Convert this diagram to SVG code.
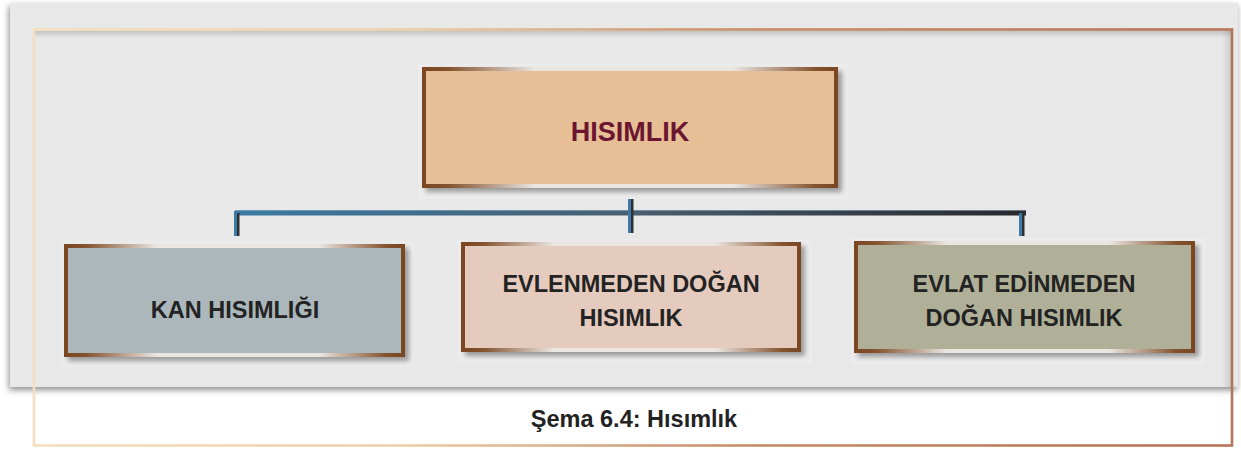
<svg xmlns="http://www.w3.org/2000/svg" width="1241" height="449" viewBox="0 0 1241 449">
<defs>
<style>
.lbl{font-family:"Liberation Sans",Arial,Helvetica,sans-serif;font-weight:bold;text-anchor:middle}
.dark{fill:#232323;font-size:23.5px}
.halo{fill:#ececec}
</style>
<linearGradient id="frameG" x1="0" y1="0" x2="1" y2="0">
<stop offset="0" stop-color="#f4dfbf"/>
<stop offset="0.3" stop-color="#edd0a6"/>
<stop offset="0.6" stop-color="#c68c69"/>
<stop offset="1" stop-color="#b57455"/>
</linearGradient>
<linearGradient id="borderG" x1="0" y1="0" x2="1" y2="0">
<stop offset="0" stop-color="#7a4722"/>
<stop offset="0.06" stop-color="#84532f"/>
<stop offset="0.27" stop-color="#ebe6e2"/>
<stop offset="0.75" stop-color="#ebe6e2"/>
<stop offset="0.95" stop-color="#84532f"/>
<stop offset="1" stop-color="#7a4722"/>
</linearGradient>
<linearGradient id="barG" x1="0" y1="0" x2="1" y2="0">
<stop offset="0" stop-color="#3b7aa3"/>
<stop offset="0.5" stop-color="#4a5f70"/>
<stop offset="1" stop-color="#28282c"/>
</linearGradient>
<linearGradient id="shadeDown" x1="0" y1="0" x2="0" y2="1">
<stop offset="0" stop-color="#000" stop-opacity="0.16"/>
<stop offset="1" stop-color="#000" stop-opacity="0"/>
</linearGradient>
<linearGradient id="shadeLeft" x1="1" y1="0" x2="0" y2="0">
<stop offset="0" stop-color="#000" stop-opacity="0.12"/>
<stop offset="1" stop-color="#000" stop-opacity="0"/>
</linearGradient>
<filter id="panelSh" x="-5%" y="-5%" width="110%" height="115%">
<feDropShadow dx="-1" dy="3" stdDeviation="3" flood-color="#000" flood-opacity="0.45"/>
</filter>
<filter id="boxSh" x="-5%" y="-10%" width="115%" height="130%">
<feDropShadow dx="4" dy="4" stdDeviation="2.5" flood-color="#000" flood-opacity="0.35"/>
</filter>
</defs>

<rect width="1241" height="449" fill="#ffffff"/>

<g id="panel">
<rect x="10" y="3" width="1228" height="384" fill="#e8e8e8" filter="url(#panelSh)"/>
<rect x="35" y="31" width="1196" height="7" fill="url(#shadeDown)"/>
<rect x="1222" y="31" width="9" height="356" fill="url(#shadeLeft)"/>
<rect x="34" y="29.5" width="1198" height="416" fill="none" stroke="url(#frameG)" stroke-width="2.6"/>
</g>

<g id="connectors">
<rect x="235" y="210" width="791" height="5.5" fill="url(#barG)"/>
<rect x="235" y="210" width="791" height="1" fill="#8fb0c8" opacity="0.6"/>
<rect x="234" y="211" width="3" height="25" fill="#3b7aa3"/>
<rect x="237" y="213" width="2.5" height="23" fill="#2e2e33"/>
<rect x="628" y="189" width="3" height="44" fill="#3b7aa3"/>
<rect x="631" y="189" width="2.5" height="9" fill="#c8d2dc"/>
<rect x="631" y="198" width="2.5" height="35" fill="#2e2e33"/>
<rect x="1019" y="213" width="3" height="23" fill="#3b7aa3"/>
<rect x="1022" y="211" width="2.5" height="25" fill="#2e2e33"/>
</g>

<g id="node-root">
<rect class="halo" x="418" y="63" width="430" height="136"/>
<rect x="424" y="69" width="412" height="117" fill="#e6bf96" stroke="url(#borderG)" stroke-width="4" filter="url(#boxSh)"/>
<text class="lbl" x="630" y="141" font-size="27" fill="#6b1530">HISIMLIK</text>
</g>

<g id="node-kan">
<rect class="halo" x="61" y="241" width="354" height="126"/>
<rect x="66" y="246" width="337" height="109" fill="#abb7bb" stroke="url(#borderG)" stroke-width="4" filter="url(#boxSh)"/>
<text class="lbl dark" x="235" y="318">KAN HISIMLIĞI</text>
</g>

<g id="node-evlenmeden">
<rect class="halo" x="458" y="239" width="354" height="124"/>
<rect x="463" y="244" width="336" height="106" fill="#e5cbbe" stroke="url(#borderG)" stroke-width="4" filter="url(#boxSh)"/>
<text class="lbl dark" x="631" y="292">EVLENMEDEN DOĞAN</text>
<text class="lbl dark" x="631" y="326">HISIMLIK</text>
</g>

<g id="node-evlat">
<rect class="halo" x="851" y="238" width="354" height="126"/>
<rect x="856" y="243" width="337" height="108" fill="#b0b098" stroke="url(#borderG)" stroke-width="4" filter="url(#boxSh)"/>
<text class="lbl dark" x="1024" y="292">EVLAT EDİNMEDEN</text>
<text class="lbl dark" x="1024" y="326">DOĞAN HISIMLIK</text>
</g>

<g id="caption">
<text class="lbl" x="634" y="427" font-size="23.5" fill="#222222">Şema 6.4: Hısımlık</text>
</g>
</svg>
